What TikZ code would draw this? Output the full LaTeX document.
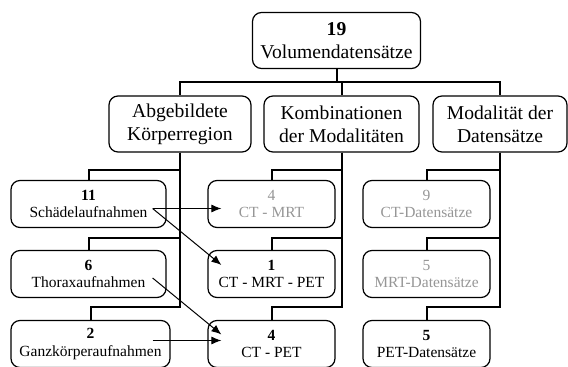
\documentclass[tikz,border=0pt]{standalone}
\usepackage{fontspec}
\setmainfont{Liberation Serif}
\usepackage{tikz}
\usetikzlibrary{arrows.meta, positioning}
\definecolor{lightgrey}{RGB}{150,150,150}

\begin{document}
\begin{tikzpicture}[x=1pt, y=1pt, box/.style={draw, rounded corners=9pt, line width=1.2pt, align=center, inner sep=1pt},head/.style={box, minimum height=56pt, font=\fontsize{19.6}{23}\selectfont},leaf/.style={box, minimum width=127pt, minimum height=47pt, font=\fontsize{15.5}{17.5}\selectfont},faded/.style={text=lightgrey},link/.style={line width=2pt},arr/.style={-{Latex[length=10pt, width=8pt]}, line width=1pt}]
  \useasboundingbox (0,0) rectangle (568,367);

  \node[head, minimum width=168pt] (total) at (336.5,326.5) {\textbf{19}\\Volumendatensätze};

  \node[head, minimum width=142pt] (region) at (180,243) {Abgebildete\\Körperregion};
  \node[head, minimum width=155pt] (combi) at (341.5,243) {Kombinationen\\der Modalitäten};
  \node[head, minimum width=134pt] (modal) at (500,243) {Modalität der\\Datensätze};

  \node[leaf, minimum width=155pt] (skull) at (88.5,163) {\textbf{11}\\Schädelaufnahmen};
  \node[leaf, minimum width=155pt] (thorax) at (88.5,93) {\textbf{6}\\Thoraxaufnahmen};
  \node[leaf, minimum width=159pt] (body) at (90.5,23) {\textbf{2}\\Ganzkörperaufnahmen};

  \node[leaf, faded] (ctmrt) at (271.5,163) {4\\CT - MRT};
  \node[leaf] (ctmrtpet) at (271.5,93) {\textbf{1}\\CT - MRT - PET};
  \node[leaf] (ctpet) at (271.5,23) {\textbf{4}\\CT - PET};

  \node[leaf, faded] (ctdata) at (426.5,163) {9\\CT-Datensätze};
  \node[leaf, faded] (mrtdata) at (426.5,93) {5\\MRT-Datensätze};
  \node[leaf] (petdata) at (426.5,23) {\textbf{5}\\PET-Datensätze};

  \draw[link] (total.south) -- ++(0,-13) -| (region.north);
  \draw[link] (total.south) -- ++(0,-13) -| (combi.north);
  \draw[link] (total.south) -- ++(0,-13) -| (modal.north);

  \draw[link] (region.south) |- ([yshift=10pt]skull.north) -- (skull.north);
  \draw[link] (region.south) |- ([yshift=12pt]thorax.north) -- (thorax.north);
  \draw[link] (region.south) |- ([yshift=13pt]body.north) -- (body.north);

  \draw[link] (combi.south) |- ([yshift=10pt]ctmrt.north) -- (ctmrt.north);
  \draw[link] (combi.south) |- ([yshift=12pt]ctmrtpet.north) -- (ctmrtpet.north);
  \draw[link] (combi.south) |- ([yshift=13pt]ctpet.north) -- (ctpet.north);

  \draw[link] (modal.south) |- ([yshift=10pt]ctdata.north) -- (ctdata.north);
  \draw[link] (modal.south) |- ([yshift=12pt]mrtdata.north) -- (mrtdata.north);
  \draw[link] (modal.south) |- ([yshift=13pt]petdata.north) -- (petdata.north);

  \draw[arr] ([xshift=-14pt, yshift=-4.5pt]skull.east) -- ([xshift=14pt, yshift=-4.5pt]ctmrt.west);
  \draw[arr] ([xshift=-14pt, yshift=-4.5pt]skull.east) -- ([xshift=14pt, yshift=9pt]ctmrtpet.west);
  \draw[arr] ([xshift=-14pt, yshift=-4pt]thorax.east) -- ([xshift=14pt, yshift=9.5pt]ctpet.west);
  \draw[arr] ([xshift=-18pt, yshift=3.5pt]body.east) -- ([xshift=14pt, yshift=3.5pt]ctpet.west);
 \end{tikzpicture}
\end{document}
